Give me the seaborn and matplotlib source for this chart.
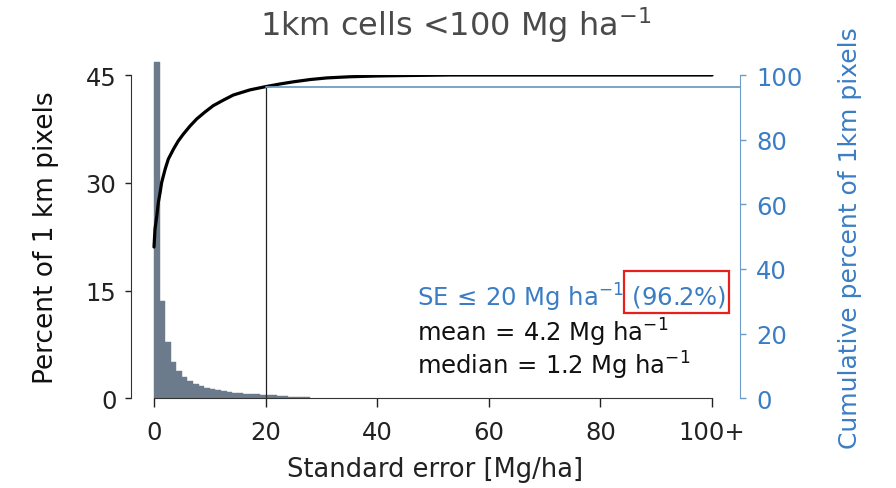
import matplotlib
matplotlib.use("Agg")
import matplotlib.pyplot as plt
from matplotlib.patches import Rectangle
import seaborn as sns
import numpy as np
import pandas as pd

# ---- data ----
bin_left = list(range(0, 28))
pct_pixels = [46.8, 13.5, 7.9, 5.0, 3.8, 2.9, 2.45, 2.05, 1.7, 1.5,
              1.3, 1.15, 1.0, 0.9, 0.8, 0.74, 0.64, 0.6, 0.55, 0.5,
              0.45, 0.4, 0.35, 0.3, 0.25, 0.22, 0.2, 0.18]
cum_se = [0, 0.18, 0.5, 0.78, 1.1, 1.38, 2.0, 2.57, 3.5, 4.35, 5.25, 6.45,
          7.65, 9.1, 10.6, 12.4, 14.2, 17.2, 20, 22.5, 25, 28, 31, 35, 40, 46, 53, 100]
cum_pct = [46.8, 52.3, 56.4, 60.6, 63.7, 66.8, 70.9, 74.0, 77.1, 79.6, 81.7, 84.2,
           86.4, 88.5, 90.5, 92.2, 93.8, 95.4, 96.4, 97.2, 97.9, 98.6, 99.1, 99.45, 99.7, 99.85, 100, 100]
x_ticks = [0, 20, 40, 60, 80, 100]
x_ticklabels = ["0", "20", "40", "60", "80", "100+"]
left_ticks = [0, 15, 30, 45]
right_ticks = [0, 20, 40, 60, 80, 100]
se_cut = 20
se_cut_pct = 96.2

sns.set_style("ticks")
plt.rcParams['font.family'] = ['DejaVu Sans']
plt.rcParams['mathtext.fontset'] = 'dejavusans'

W, H = 896, 489
fig = plt.figure(figsize=(W / 100, H / 100), dpi=100)
ax = fig.add_axes([131 / W, 1 - 399.3 / H, (740 - 131) / W, (399.3 - 76) / H])

bar_col = "#6C7B8B"
blue_txt = "#3B7DC4"
blue_ax = "#6D9DC8"

hist_df = pd.DataFrame({"se": [b + 0.5 for b in bin_left], "pct": pct_pixels})
sns.histplot(data=hist_df, x="se", weights="pct", binwidth=1, binrange=(0, 28),
             color=bar_col, alpha=1, linewidth=0, ax=ax)
for p in ax.patches:
    p.set_clip_on(False)
    p.set_edgecolor(bar_col)
    p.set_linewidth(0.3)

x0 = -4.12
x1 = 105.0
ax.set_xlim(x0, x1)
ax.set_ylim(0, 45)
ax.set_ylabel("Percent of 1 km pixels", fontsize=19, color="#111111", labelpad=19)
ax.set_xlabel("Standard error [Mg/ha]", fontsize=18.5, color="#222222", labelpad=9)
ax.set_xticks(x_ticks)
ax.set_xticklabels(x_ticklabels)
ax.set_yticks(left_ticks)
ax.tick_params(axis='x', length=6.5, width=1, pad=9, labelsize=17.5, colors="#222222")
ax.tick_params(axis='y', length=4.5, width=1, pad=6, labelsize=17.5, colors="#222222")
for s in ["top", "right"]:
    ax.spines[s].set_visible(False)
ax.spines["bottom"].set_bounds(0, 100)
ax.spines["left"].set_bounds(0, 45)
ax.spines["bottom"].set_color("#333333")
ax.spines["left"].set_color("#333333")

ax2 = ax.twinx()
ax2.set_ylim(0, 100)
ax2.set_xlim(x0, x1)
sns.lineplot(x=cum_se, y=cum_pct, ax=ax2, color="black", linewidth=2.3)
ax2.plot([se_cut, se_cut], [0, se_cut_pct], color="#222222", linewidth=0.9)
ax2.plot([se_cut, x1], [se_cut_pct, se_cut_pct], color=blue_ax, linewidth=1.3)
ax2.set_yticks(right_ticks)
ax2.tick_params(axis='y', length=4.5, width=1, pad=7, labelsize=17.5,
                colors=blue_ax, labelcolor=blue_txt)
ax2.set_ylabel("Cumulative percent of 1km pixels", fontsize=18, color=blue_txt, labelpad=26)
for s in ["top", "left", "bottom"]:
    ax2.spines[s].set_visible(False)
ax2.spines["right"].set_color(blue_ax)
ax2.spines["right"].set_bounds(0, 100)

# annotations
fs = 17.5
ax.text(47.1, 12.9, r"SE$\,\leq\,$20 Mg ha$^{-1}$ (96.2%)", fontsize=fs, color=blue_txt, va="baseline")
ax.text(47.1, 8.0, r"mean$\,=\,$4.2 Mg ha$^{-1}$", fontsize=fs, color="#111111", va="baseline")
ax.text(47.1, 3.4, r"median$\,=\,$1.2 Mg ha$^{-1}$", fontsize=fs, color="#111111", va="baseline")

fig.patches.append(Rectangle((624 / W, 1 - 314 / H), 105 / W, 42 / H,
                             transform=fig.transFigure, fill=False,
                             edgecolor="#E8201C", linewidth=1.6))

fig.text(456 / W, 1 - 25 / H, r"1km cells <100 Mg ha$^{\mathregular{-1}}$",
         fontsize=23, color="#4a4a4a", ha="center", va="center")

fig.savefig("out.png", dpi=100)
